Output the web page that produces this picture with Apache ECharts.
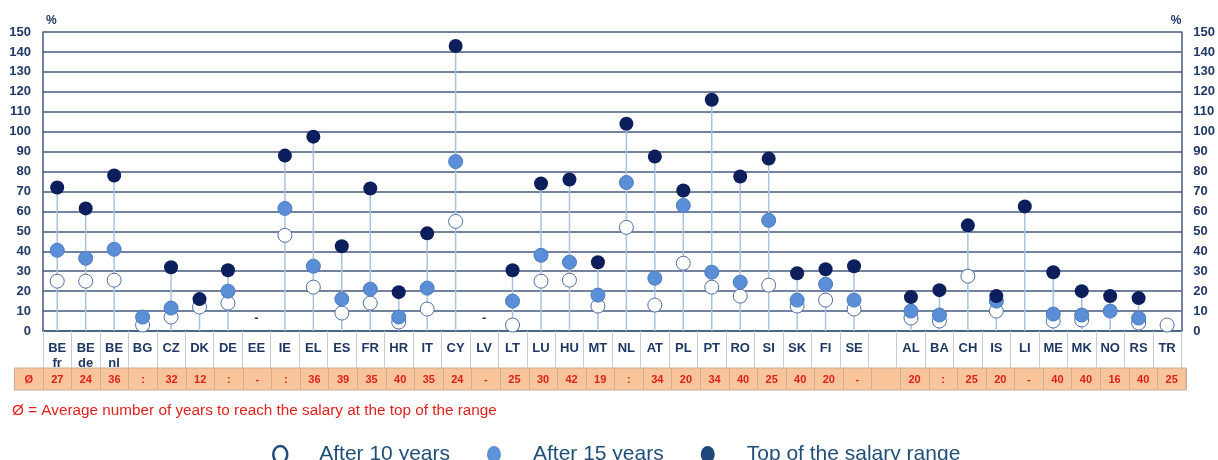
<!DOCTYPE html>
<html>
<head>
<meta charset="utf-8">
<title>Salary progression</title>
<script src="https://cdn.jsdelivr.net/npm/echarts@6.0.0/dist/echarts.min.js"></script>
<style>
	html, body { margin: 0; padding: 0; background: #fff; }
	#chart { width: 1218px; height: 460px; }
</style>
</head>
<body>
<div id="chart"></div>
<script>
// categories (blank column separates EU countries from the others)
var categories = ['BE\nfr', 'BE\nde', 'BE\nnl', 'BG', 'CZ', 'DK', 'DE', 'EE', 'IE', 'EL', 'ES', 'FR', 'HR', 'IT', 'CY', 'LV', 'LT', 'LU', 'HU', 'MT', 'NL', 'AT', 'PL', 'PT', 'RO', 'SI', 'SK', 'FI', 'SE', '', 'AL', 'BA', 'CH', 'IS', 'LI', 'ME', 'MK', 'NO', 'RS', 'TR'];
// after 10 years (%)
var after10 = [25, 25, 25.5, 3, 7, 12, 14, null, 48, 22, 9, 14, 4.5, 11, 55, null, 3, 25, 25.5, 12.5, 52, 13, 34, 22, 17.5, 23, 12.5, 15.5, 11, null, 6.5, 5, 27.5, 10, null, 5, 5.5, null, 4, 3];
// after 15 years (%)
var after15 = [40.5, 36.5, 41, 7, 11.5, null, 20, null, 61.5, 32.5, 16, 21, 7, 21.5, 85, null, 15, 38, 34.5, 18, 74.5, 26.5, 63, 29.5, 24.5, 55.5, 15.5, 23.5, 15.5, null, 10, 8, null, 15, null, 8.5, 8, 10, 6.5, null];
// top of the salary range (%)
var topRange = [72, 61.5, 78, null, 32, 16, 30.5, null, 88, 97.5, 42.5, 71.5, 19.5, 49, 143, null, 30.5, 74, 76, 34.5, 104, 87.5, 70.5, 116, 77.5, 86.5, 29, 31, 32.5, null, 17, 20.5, 53, 17.5, 62.5, 29.5, 20, 17.5, 16.5, null];
// average number of years to reach the top
var years = ['27', '24', '36', ':', '32', '12', ':', '-', ':', '36', '39', '35', '40', '35', '24', '-', '25', '30', '42', '19', ':', '34', '20', '34', '40', '25', '40', '20', '-', '', '20', ':', '25', '20', '-', '40', '40', '16', '40', '25'];
// y axis ticks
var yMin = 0, yMax = 150, yStep = 10;

var navy = '#1f3864';
var narrow = '"Liberation Sans Narrow", "Arial Narrow", "Liberation Sans", sans-serif';
var wide = '"Liberation Sans", Arial, sans-serif';
//ellipse for the legend (stretched to itemWidth x itemHeight)
var ellipse = 'path://M7,0A7,8.5,0,1,1,7,17A7,8.5,0,1,1,7,0Z';

//stem = highest value of each country
var stems = categories.map(function(c, i) {
	var v = [after10[i], after15[i], topRange[i]].filter(function(x) { return x != null; });
	return v.length ? Math.max.apply(null, v) : null;
});
//countries without any data get a "-"
var dashes = categories.map(function(c, i) {
	if(c !== '' && after10[i] == null && after15[i] == null && topRange[i] == null) return 6.5;
	return null;
});

var chart = echarts.init(document.getElementById('chart'), null, { renderer: 'canvas' });

var yAxisBase = function(pos) {
	return {
		type: 'value',
		position: pos,
		min: yMin,
		max: yMax,
		interval: yStep,
		name: '%',
		nameLocation: 'end',
		nameGap: 5,
		nameTextStyle: {
			color: navy, fontFamily: narrow, fontWeight: 'bold', fontSize: 12,
			align: pos == 'left' ? 'left' : 'right',
			padding: pos == 'left' ? [0, 0, 0, 3] : [0, 0, 0, 0]
		},
		axisLine: { show: true, lineStyle: { color: '#44597f', width: 1.5 } },
		axisTick: { show: false },
		axisLabel: { color: navy, fontFamily: narrow, fontWeight: 'bold', fontSize: 13, margin: 12 },
		splitLine: { show: pos == 'left', lineStyle: { color: '#44597f', width: 1.5 } }
	};
};

var option = {
	animation: false,
	title: {
		text: 'Ø = Average number of years to reach the salary at the top of the range',
		left: 7,
		top: 398,
		textStyle: { color: '#e3221d', fontFamily: narrow, fontWeight: 'normal', fontSize: 15.3 }
	},
	legend: {
		left: 267,
		top: 439,
		itemWidth: 14,
		itemHeight: 17,
		itemGap: 37,
		icon: ellipse,
		textStyle: { color: '#1f4e79', fontFamily: wide, fontSize: 21, padding: [0, 0, 0, 27] },
		data: [
			{ name: 'After 10 years', itemStyle: { color: '#fff', borderColor: '#1f4e79', borderWidth: 2.5 } },
			{ name: 'After 15 years', itemStyle: { color: '#5b93d9', borderWidth: 0 } },
			{ name: 'Top of the salary range', itemStyle: { color: '#1f497d', borderWidth: 0 } }
		]
	},
	grid: [
		{ left: 43, right: 32, top: 32, bottom: 129 },
		{ left: 14.4, right: 32, top: 368, height: 22, show: true, backgroundColor: '#fac49b', borderColor: '#c9ad96', borderWidth: 1 }
	],
	xAxis: [
		{
			type: 'category',
			gridIndex: 0,
			data: categories,
			axisLine: { show: true, lineStyle: { color: '#44597f', width: 1.5 } },
			axisTick: { show: true, interval: 0, length: 37, lineStyle: { color: '#c3cbd8', width: 1 } },
			axisLabel: {
				interval: 0, margin: 10, color: navy, fontFamily: narrow, fontWeight: 'bold',
				fontSize: 13, lineHeight: 15
			},
			splitLine: { show: false }
		},
		{
			type: 'category',
			gridIndex: 1,
			position: 'top',
			data: ['Ø'].concat(years),
			axisLine: { show: false },
			axisTick: { show: false },
			axisLabel: {
				interval: 0, margin: -12, verticalAlign: 'middle', color: '#d9201e',
				fontFamily: narrow, fontWeight: 'bold', fontSize: 11
			},
			splitLine: { show: true, interval: 0, lineStyle: { color: '#c9ad96', width: 1 } }
		}
	],
	yAxis: [
		yAxisBase('left'),
		yAxisBase('right'),
		{ type: 'value', gridIndex: 1, min: 0, max: 1, show: false }
	],
	series: [
		{
			name: 'stem',
			type: 'bar',
			data: stems,
			barWidth: 1.5,
			silent: true,
			z: 1,
			itemStyle: { color: '#a9c3df' }
		},
		{
			name: 'After 10 years',
			type: 'scatter',
			data: after10,
			symbolSize: 14,
			z: 3,
			itemStyle: { color: '#fff', borderColor: '#4d6fa8', borderWidth: 1, opacity: 1 }
		},
		{
			name: 'After 15 years',
			type: 'scatter',
			data: after15,
			symbolSize: 14,
			z: 4,
			itemStyle: { color: '#5a8ed6', borderColor: '#4a7bc2', borderWidth: 1, opacity: 1 }
		},
		{
			name: 'Top of the salary range',
			type: 'scatter',
			data: topRange,
			symbolSize: 14,
			z: 5,
			itemStyle: { color: '#0c1f5c', opacity: 1 }
		},
		{
			name: 'no data',
			type: 'scatter',
			data: dashes,
			symbolSize: 0,
			silent: true,
			z: 6,
			label: { show: true, position: 'inside', formatter: '-', color: '#000', fontWeight: 'bold', fontSize: 13, fontFamily: wide }
		}
	]
};
chart.setOption(option);
</script>
</body>
</html>
